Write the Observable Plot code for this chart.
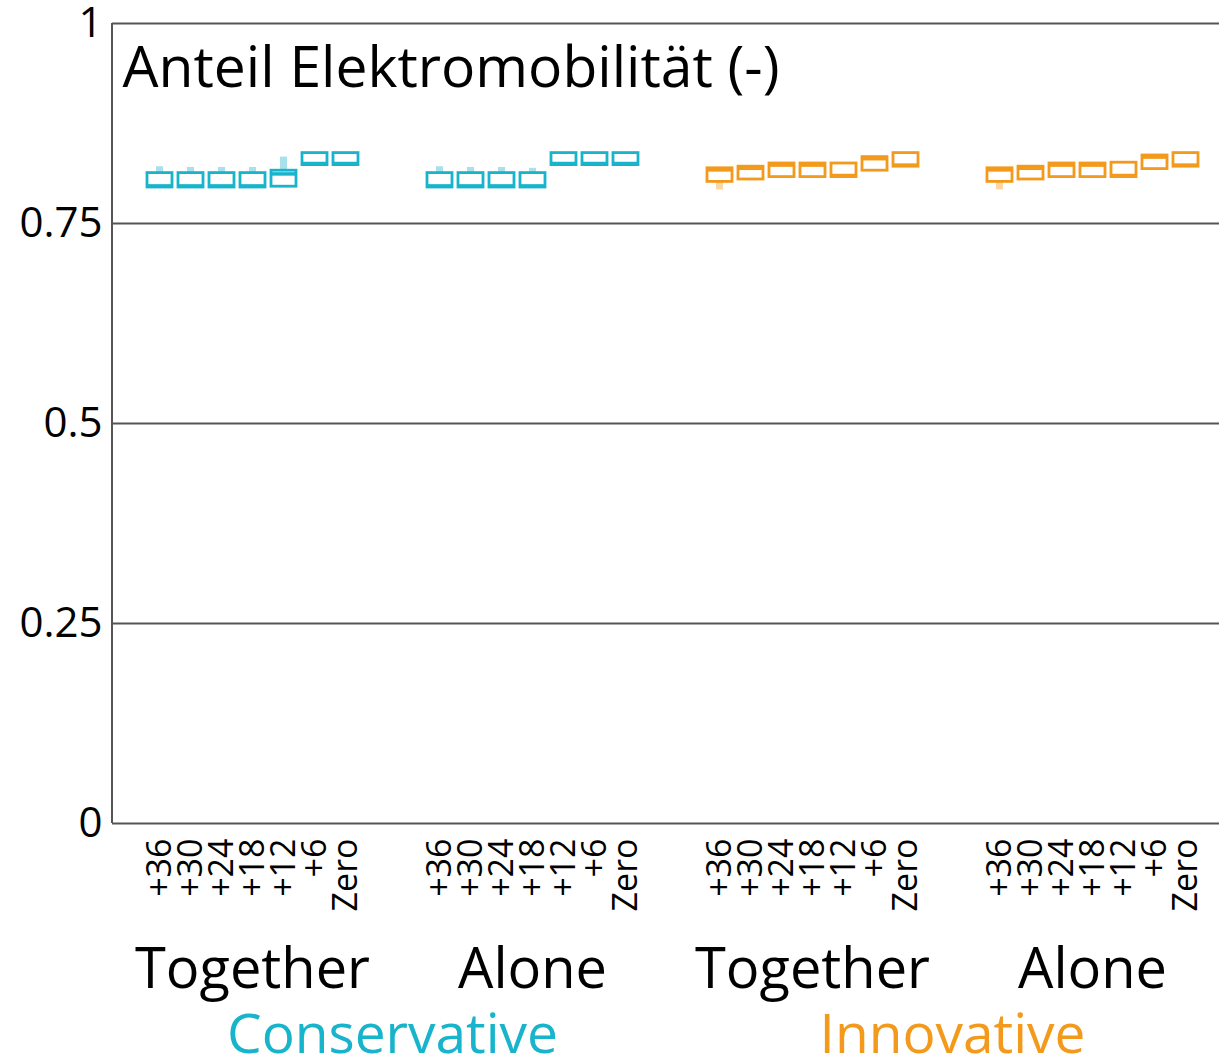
<!DOCTYPE html>
<html><head><meta charset="utf-8">
<script src="https://cdn.jsdelivr.net/npm/d3@7"></script>
<script src="https://cdn.jsdelivr.net/npm/@observablehq/plot@0.6"></script>
<style>html,body{margin:0;padding:0;background:#fff;overflow:hidden;width:1219px;height:1058px}</style>
</head><body><div id="chart"></div>
<script>
const scenarios = ["+36","+30","+24","+18","+12","+6","Zero"];
const groupLabels = ["Together","Alone","Together","Alone"];
const panelSegment = [0,0,1,1];
const segmentLabels = ["Conservative","Innovative"];
const yTicks = [0, 0.25, 0.5, 0.75, 1];
const yTickLabels = ["0","0.25","0.5","0.75","1"];
const title = "Anteil Elektromobilität (-)";

// Conservative – Together
const consTogetherQ1  = [0.795,0.795,0.795,0.795,0.796,0.823,0.823];
const consTogetherQ3  = [0.813,0.813,0.813,0.813,0.816,0.838,0.838];
const consTogetherMed = [0.797,0.797,0.797,0.797,0.812,0.825,0.825];
const consTogetherLo  = [0.795,0.795,0.795,0.795,0.796,0.823,0.823];
const consTogetherHi  = [0.821,0.820,0.820,0.820,0.833,0.838,0.838];
// Conservative – Alone
const consAloneQ1  = [0.795,0.795,0.795,0.795,0.823,0.823,0.823];
const consAloneQ3  = [0.813,0.813,0.813,0.813,0.838,0.838,0.838];
const consAloneMed = [0.797,0.797,0.797,0.797,0.825,0.825,0.825];
const consAloneLo  = [0.795,0.795,0.795,0.795,0.823,0.823,0.823];
const consAloneHi  = [0.821,0.820,0.820,0.819,0.838,0.838,0.838];
// Innovative – Together
const innoTogetherQ1  = [0.802,0.805,0.808,0.808,0.808,0.816,0.821];
const innoTogetherQ3  = [0.819,0.821,0.825,0.825,0.825,0.833,0.838];
const innoTogetherMed = [0.817,0.819,0.823,0.823,0.810,0.831,0.823];
const innoTogetherLo  = [0.792,0.805,0.808,0.808,0.808,0.816,0.821];
const innoTogetherHi  = [0.819,0.821,0.825,0.825,0.825,0.833,0.838];
// Innovative – Alone
const innoAloneQ1  = [0.802,0.805,0.808,0.808,0.808,0.818,0.821];
const innoAloneQ3  = [0.819,0.821,0.825,0.825,0.826,0.835,0.838];
const innoAloneMed = [0.817,0.819,0.823,0.823,0.810,0.833,0.823];
const innoAloneLo  = [0.792,0.805,0.808,0.808,0.808,0.818,0.821];
const innoAloneHi  = [0.819,0.821,0.825,0.825,0.826,0.835,0.838];

const segColor = ["#17b4cc", "#f39a1c"];
const segLight = ["#a8e1eb", "#fcd7a4"];

const panels = [
  [consTogetherQ1, consTogetherQ3, consTogetherMed, consTogetherLo, consTogetherHi],
  [consAloneQ1, consAloneQ3, consAloneMed, consAloneLo, consAloneHi],
  [innoTogetherQ1, innoTogetherQ3, innoTogetherMed, innoTogetherLo, innoTogetherHi],
  [innoAloneQ1, innoAloneQ3, innoAloneMed, innoAloneLo, innoAloneHi]
];
const rows = [];
panels.forEach((p, k) => scenarios.forEach((s, i) => rows.push({
  panel: k, scen: s, q1: p[0][i], q3: p[1][i], med: p[2][i], lo: p[3][i], hi: p[4][i],
  color: segColor[panelSegment[k]], light: segLight[panelSegment[k]]
})));

const W = 1232, H = 1058, ML = 112, MR = 0, MT = 23, MB = 235;
const facetW = (W - ML - MR) / groupLabels.length, facetH = H - MT - MB;
const lineColor = "#555";
const chart = Plot.plot({
  width: W, height: H,
  marginLeft: ML, marginRight: MR, marginTop: MT, marginBottom: MB,
  style: {fontFamily: "'Open Sans', sans-serif", maxWidth: "none", background: "#fff", color: "#000", overflow: "visible"},
  fx: {domain: [0,1,2,3], padding: 0, label: null},
  x: {domain: scenarios, paddingInner: 0.2, paddingOuter: 1.1, label: null},
  y: {domain: [0, 1], label: null},
  marks: [
    Plot.ruleY(yTicks, {stroke: lineColor, strokeWidth: 2}),
    // left edge of the plot frame (first facet only)
    Plot.barY([{panel: 0, a: 0, b: 1}], {fx: "panel", y1: "a", y2: "b", fill: "none", stroke: lineColor, strokeWidth: 2,
      strokeDasharray: `0 ${2 * facetW + facetH} ${facetH} 0`}),
    Plot.barY(rows, {fx: "panel", x: "scen", y1: "q3", y2: "hi", fill: "light", insetLeft: 9, insetRight: 9}),
    Plot.barY(rows, {fx: "panel", x: "scen", y1: "lo", y2: "q1", fill: "light", insetLeft: 9, insetRight: 9}),
    Plot.barY(rows, {fx: "panel", x: "scen", y1: "q1", y2: "q3", fill: "white", stroke: "color", strokeWidth: 2.8}),
    Plot.tickY(rows, {fx: "panel", x: "scen", y: "med", stroke: "color", strokeWidth: 3.5}),
    Plot.axisY({ticks: yTicks, tickFormat: (d) => yTickLabels[yTicks.indexOf(d)], tickSize: 0, tickPadding: 10, fontSize: 42, fill: "#000"}),
    Plot.axisX({anchor: "bottom", tickRotate: -90, tickSize: 0, tickPadding: 15, fontSize: 34, fill: "#000", label: null}),
    Plot.axisFx({anchor: "bottom", tickSize: 0, tickPadding: 125, fontSize: 56, fill: "#000", tickFormat: i => groupLabels[i], label: null}),
    Plot.text([{panel: 0, t: title}], {fx: "panel", text: "t", frameAnchor: "top-left", textAnchor: "start", lineAnchor: "top", dx: 10, dy: 23, fontSize: 57, fill: "#000"}),
    Plot.text([{panel: 0, t: segmentLabels[0]}, {panel: 2, t: segmentLabels[1]}], {fx: "panel", text: "t", frameAnchor: "bottom-right", textAnchor: "middle", lineAnchor: "bottom", dy: 229, fontSize: 55, fill: (d) => segColor[segmentLabels.indexOf(d.t)]})
  ]
});
document.getElementById("chart").appendChild(chart);
</script></body></html>
